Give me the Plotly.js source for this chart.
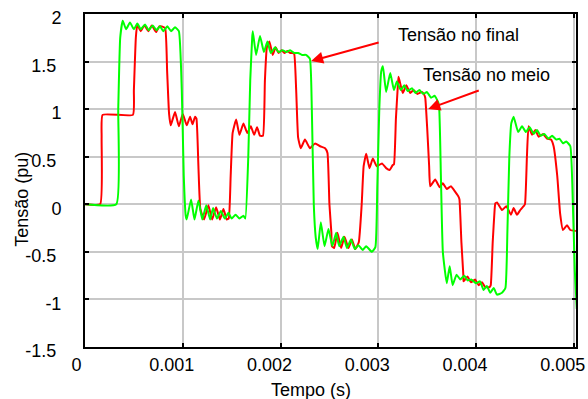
<!DOCTYPE html>
<html>
<head>
<meta charset="utf-8">
<script src="https://cdn.plot.ly/plotly-3.0.1.min.js"></script>
<style>html,body{margin:0;padding:0;background:#fff;}#chart{width:588px;height:399px;}</style>
</head>
<body>
<div id="chart"></div>
<script>
// Tensão no meio (red) — time in seconds, voltage in pu
const tMeio = [0, 0.000155, 0.00017, 0.00018, 0.00049, 0.00050, 0.00052, 0.000535,
  0.00057, 0.000607, 0.000648, 0.000683, 0.000727, 0.00076, 0.000785, 0.00082,
  0.00084, 0.00086, 0.000877, 0.000921, 0.00096, 0.001, 0.00104, 0.001075, 0.0011, 0.001126, 0.00114,
  0.00116, 0.00118, 0.001218, 0.001262, 0.0013, 0.001341, 0.00138, 0.001416, 0.00145, 0.00147,
  0.00149, 0.00151, 0.001546, 0.00158, 0.00162, 0.00166, 0.001696, 0.00173, 0.00176, 0.00179, 0.00182,
  0.00184, 0.00186, 0.001886, 0.00192, 0.00195, 0.00198, 0.00201, 0.00204, 0.00207, 0.0021, 0.002125, 0.00214,
  0.00216, 0.00218, 0.002207, 0.00225, 0.0023, 0.002354, 0.002405, 0.002456, 0.00248,
  0.0025, 0.00252, 0.002525, 0.002549, 0.002582, 0.00262, 0.002654, 0.002695, 0.00273, 0.002764, 0.0028,
  0.00283, 0.00285, 0.002876, 0.00291, 0.002944, 0.002985, 0.003037, 0.00308, 0.003115, 0.003146, 0.00316,
  0.00318, 0.0032, 0.003207, 0.00325, 0.003286, 0.003327, 0.00336, 0.0034, 0.003446, 0.00347, 0.00348,
  0.0035, 0.00352, 0.003531, 0.003582, 0.003627, 0.00366, 0.0037, 0.003743, 0.003787, 0.00382, 0.00383,
  0.00385, 0.00387, 0.003872, 0.003913, 0.003948, 0.00399, 0.004026, 0.00406, 0.004094, 0.004138, 0.00415,
  0.00417, 0.00419, 0.004197, 0.004214, 0.004265, 0.00431, 0.004357, 0.004384, 0.004418, 0.004452, 0.004486, 0.0045,
  0.00452, 0.004537, 0.004572, 0.004606, 0.00464, 0.004685, 0.004726, 0.004766, 0.004793,
  0.00483, 0.00486, 0.004889, 0.00493, 0.004964, 0.00502];
const vMeio = [0, 0, 0.7, 0.94, 0.94, 1.2, 1.75, 1.89,
  1.82, 1.88, 1.82, 1.88, 1.81, 1.87, 1.87, 1.85,
  1.4, 0.95, 0.83, 0.97, 0.82, 0.95, 0.83, 0.92, 0.84, 0.92, 0.9,
  0.4, -0.05, -0.16, -0.01, -0.16, -0.03, -0.16, -0.05, -0.16, -0.15,
  0.3, 0.75, 0.89, 0.73, 0.85, 0.75, 0.82, 0.73, 0.81, 0.72, 0.72,
  1.3, 1.65, 1.71, 1.57, 1.65, 1.59, 1.62, 1.59, 1.61, 1.59, 1.59, 1.58,
  1.2, 0.7, 0.59, 0.68, 0.59, 0.64, 0.61, 0.59, 0.54,
  0.0, -0.3, -0.44, -0.46, -0.30, -0.46, -0.34, -0.46, -0.37, -0.47, -0.4,
  0.0, 0.4, 0.53, 0.38, 0.48, 0.40, 0.43, 0.38, 0.36, 0.41, 0.42,
  0.9, 1.25, 1.34, 1.17, 1.25, 1.17, 1.20, 1.16, 1.18, 1.15, 1.12,
  0.8, 0.4, 0.19, 0.26, 0.18, 0.22, 0.16, 0.19, 0.13, 0.08, 0.05,
  -0.4, -0.75, -0.81, -0.76, -0.82, -0.79, -0.85, -0.82, -0.87, -0.87, -0.85,
  -0.4, -0.05, 0.01, 0.02, -0.06, -0.02, -0.11, -0.04, -0.11, -0.06, -0.02, 0.0,
  0.5, 0.82, 0.73, 0.78, 0.71, 0.74, 0.69, 0.68, 0.61,
  0.3, -0.1, -0.27, -0.22, -0.27, -0.28];

// Tensão no final (green)
const tFinal = [0, 0.00032, 0.00034, 0.00036, 0.000386,
  0.00042, 0.00046, 0.0005, 0.000535, 0.00057, 0.000614, 0.00065, 0.000693, 0.00073, 0.000768, 0.0008, 0.000842, 0.00088, 0.000921, 0.00096,
  0.00099, 0.00101, 0.00103, 0.00104,
  0.001085, 0.00112, 0.00116, 0.0012, 0.00124, 0.00128, 0.00131, 0.00135, 0.00139, 0.00143, 0.001467, 0.0015, 0.00154, 0.00158, 0.00162, 0.00164,
  0.00167, 0.00169, 0.00171, 0.001716,
  0.00175, 0.00179, 0.00183, 0.001866, 0.0019, 0.001945, 0.00198, 0.00202, 0.00206, 0.002098, 0.00214, 0.00218, 0.00222, 0.00226, 0.0023,
  0.00232, 0.00234, 0.00236, 0.00238,
  0.002412, 0.00245, 0.00249, 0.00253, 0.002569, 0.0026, 0.002644, 0.00268, 0.00272, 0.00276, 0.002797, 0.00284, 0.002876, 0.002934, 0.00297,
  0.00299, 0.00301, 0.00303, 0.003047,
  0.00308, 0.003122, 0.00316, 0.00319, 0.00323, 0.003265, 0.0033, 0.003344, 0.00338, 0.00342, 0.00346, 0.003497, 0.00354, 0.003575, 0.0036, 0.00362,
  0.00364, 0.00366, 0.0037,
  0.00373, 0.00376, 0.0038, 0.003838, 0.00388, 0.003913, 0.00395, 0.003999, 0.00404, 0.004077, 0.00411, 0.004145, 0.00418, 0.004214, 0.004265, 0.0043,
  0.00432, 0.00434, 0.00436, 0.004384,
  0.00443, 0.00447, 0.00451, 0.004548, 0.00459, 0.004623, 0.00466, 0.004698, 0.00474, 0.004777, 0.00482, 0.004852, 0.00489, 0.004923, 0.004964,
  0.00499, 0.00501, 0.00503];
const vFinal = [0, 0, 1.0, 1.75, 1.93,
  1.84, 1.91, 1.84, 1.90, 1.84, 1.89, 1.83, 1.88, 1.83, 1.87, 1.82, 1.87, 1.82, 1.86, 1.82,
  1.2, 0.3, -0.12, -0.16,
  0.05, -0.16, 0.04, -0.16, -0.01, -0.16, -0.04, -0.15, -0.07, -0.15, -0.09, -0.15, -0.11, -0.15, -0.12, -0.15,
  0.5, 1.3, 1.75, 1.82,
  1.57, 1.77, 1.6, 1.71, 1.59, 1.65, 1.6, 1.62, 1.6, 1.62, 1.59, 1.59, 1.57, 1.57, 1.53,
  1.0, 0.0, -0.35, -0.47,
  -0.19, -0.44, -0.26, -0.44, -0.30, -0.44, -0.34, -0.46, -0.37, -0.47, -0.43, -0.48, -0.44, -0.5, -0.45,
  0.2, 1.0, 1.4, 1.45,
  1.18, 1.38, 1.2, 1.29, 1.2, 1.25, 1.19, 1.22, 1.17, 1.20, 1.16, 1.18, 1.12, 1.14, 1.10, 1.05,
  0.3, -0.5, -0.83,
  -0.65, -0.85, -0.74, -0.79, -0.75, -0.8, -0.79, -0.83, -0.81, -0.9, -0.86, -0.93, -0.88, -0.95, -0.93, -0.88,
  -0.3, 0.5, 0.85, 0.92,
  0.76, 0.82, 0.76, 0.81, 0.74, 0.78, 0.72, 0.74, 0.69, 0.72, 0.68, 0.69, 0.64, 0.66, 0.61,
  0.0, -0.7, -1.1];

const xTickVals = [0, 0.001, 0.002, 0.003, 0.004, 0.005];
const xTickText = ['\u00a00', '0.001', '0.002', '0.003', '0.004', '0.005'];
const yTickVals = [-1.5, -1, -0.5, 0, 0.5, 1, 1.5, 2];
const yTickText = ['-1.5\u00a0', '-1', '-0.5\u00a0', '0', '0.5\u00a0', '1', '1.5\u00a0', '2'];

const FONT = 'Liberation Sans, Arial, sans-serif';

const traces = [
  {x: tMeio, y: vMeio, type: 'scatter', mode: 'lines', name: 'Tensão no meio',
   line: {color: '#ff0000', width: 2, shape: 'spline', smoothing: 0.4}},
  {x: tFinal, y: vFinal, type: 'scatter', mode: 'lines', name: 'Tensão no final',
   line: {color: '#00ff00', width: 2, shape: 'spline', smoothing: 0.4}}
];

const axisCommon = {
  showline: true, linecolor: '#000', linewidth: 2, mirror: 'ticks',
  ticks: 'inside', ticklen: 4, tickwidth: 2, tickcolor: '#000',
  showgrid: true, gridcolor: '#c8c8c8', gridwidth: 2, zeroline: false,
  tickfont: {family: FONT, size: 18, color: '#000'}
};

const layout = {
  width: 588, height: 399,
  margin: {l: 85, r: 12, t: 14, b: 52},
  paper_bgcolor: '#fff', plot_bgcolor: '#fff',
  showlegend: false,
  font: {family: FONT, size: 18, color: '#000'},
  xaxis: Object.assign({}, axisCommon, {
    range: [0, 0.005022], tickmode: 'array', tickvals: xTickVals, ticktext: xTickText,
    ticklabelshift: -11, ticklabelstandoff: 0
  }),
  yaxis: Object.assign({}, axisCommon, {
    range: [-1.5, 2], tickmode: 'array', tickvals: yTickVals, ticktext: yTickText,
    ticklabelshift: 4, ticklabelstandoff: 18
  }),
  annotations: [
    {xref: 'paper', yref: 'paper', x: 0.460, y: -0.128, text: 'Tempo (s)', showarrow: false,
     xanchor: 'center', yanchor: 'middle', font: {family: FONT, size: 18}},
    {xref: 'paper', yref: 'paper', x: -0.129, y: 0.444, text: 'Tensão (pu)', showarrow: false,
     textangle: -90, xanchor: 'center', yanchor: 'middle', font: {family: FONT, size: 18}},
    {xref: 'x', yref: 'y', x: 0.003818, y: 1.78, text: 'Tensão no final', showarrow: false,
     xanchor: 'center', yanchor: 'middle', font: {family: FONT, size: 18}},
    {xref: 'x', yref: 'y', x: 0.004104, y: 1.364, text: 'Tensão no meio', showarrow: false,
     xanchor: 'center', yanchor: 'middle', font: {family: FONT, size: 18}},
    {xref: 'x', yref: 'y', x: 0.002313, y: 1.506, text: '', showarrow: true,
     ax: 69, ay: -19, arrowhead: 2, arrowsize: 1.2, arrowwidth: 2, arrowcolor: '#ff0000', standoff: 0},
    {xref: 'x', yref: 'y', x: 0.003511, y: 1.002, text: '', showarrow: true,
     ax: 52, ay: -19, arrowhead: 2, arrowsize: 1.2, arrowwidth: 2, arrowcolor: '#ff0000', standoff: 0}
  ]
};

Plotly.newPlot('chart', traces, layout, {displayModeBar: false, staticPlot: true});
</script>
</body>
</html>
